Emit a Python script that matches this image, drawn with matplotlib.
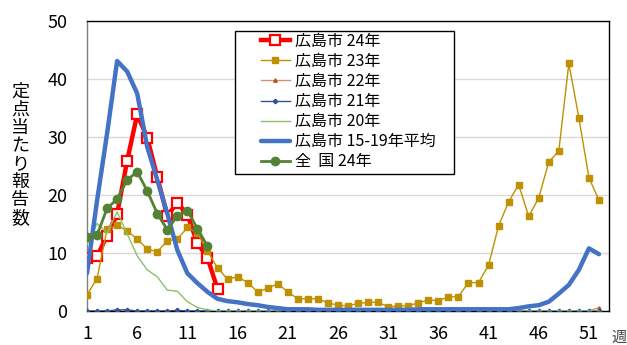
import numpy as np
import matplotlib
matplotlib.use("Agg")
import matplotlib.pyplot as plt
from matplotlib.patches import Rectangle

plt.rcParams['font.family'] = ['Noto Sans CJK JP', 'DejaVu Sans']

weeks = list(range(1, 53))

hiroshima_24 = [9.2, 9.4, 13.0, 16.7, 25.9, 33.9, 29.9, 23.1, 16.4, 18.7, 16.6, 11.7, 9.2, 3.8]
hiroshima_23 = [2.8, 5.6, 14.1, 14.8, 13.8, 12.4, 10.7, 10.2, 12.1, 12.4, 14.4, 13.4, 10.4, 7.4,
                5.5, 5.9, 4.9, 3.3, 3.9, 4.7, 3.3, 2.1, 2.1, 2.1, 1.4, 1.0, 0.9, 1.3, 1.5, 1.5,
                0.7, 0.9, 0.9, 1.4, 1.9, 1.8, 2.4, 2.5, 4.9, 4.9, 7.9, 14.7, 18.8, 21.8, 16.3,
                19.5, 25.7, 27.6, 42.7, 33.3, 23.0, 19.1]
hiroshima_22 = [0.0] * 51 + [0.6]
hiroshima_21 = [0.0, 0.0, 0.0, 0.2, 0.2, 0.0, 0.0, 0.0, 0.0, 0.1] + [0.0] * 42
hiroshima_20 = [11.5, 15.1, 13.4, 17.1, 13.3, 9.5, 7.1, 5.9, 3.6, 3.4, 1.6, 0.6, 0.2] + [0.0] * 39
hiroshima_avg = [6.5, 19.0, 30.6, 43.1, 41.3, 37.5, 28.3, 22.6, 16.8, 10.5, 6.5, 4.8, 3.3, 2.1,
                 1.7, 1.5, 1.2, 1.0, 0.7, 0.5, 0.3, 0.3, 0.3, 0.2, 0.2, 0.2, 0.2, 0.2, 0.2, 0.2,
                 0.2, 0.2, 0.2, 0.3, 0.3, 0.3, 0.3, 0.3, 0.3, 0.3, 0.3, 0.3, 0.3, 0.5, 0.8,
                 1.0, 1.6, 3.0, 4.5, 7.1, 10.8, 9.8]
zenkoku_24 = [12.7, 13.1, 17.7, 19.3, 22.6, 24.0, 20.7, 16.8, 14.0, 16.4, 17.3, 14.2, 11.2]

labels = ['広島市 24年', '広島市 23年', '広島市 22年', '広島市 21年', '広島市 20年',
          '広島市 15-19年平均', '全  国 24年']
yticks = [0, 10, 20, 30, 40, 50]
xticks = list(range(1, 53, 5))

fig = plt.figure(figsize=(6.27, 3.45), dpi=100)
ax = fig.add_axes([87/627, 1 - 311/345, (609-87)/627, (311-21)/345])

def wk(vals):
    return weeks[:len(vals)]

ax.plot(wk(hiroshima_24), hiroshima_24, color='#FF0000', lw=3.2, marker='s', ms=7,
        mfc='white', mec='#FF0000', mew=1.6, label=labels[0], zorder=3)
ax.plot(wk(hiroshima_23), hiroshima_23, color='#BF9000', lw=1.0, marker='s', ms=4.3,
        mfc='#BF9000', mec='#BF9000', label=labels[1], zorder=4)
ax.plot(wk(hiroshima_22), hiroshima_22, color='#D4926A', lw=1.0, marker='^', ms=2.5,
        mfc='#B5541E', mec='#B5541E', label=labels[2], zorder=5)
ax.plot(wk(hiroshima_21), hiroshima_21, color='#2F5597', lw=1.0, marker='D', ms=2.3,
        mfc='#2F5597', mec='#2F5597', label=labels[3], zorder=6)
ax.plot(wk(hiroshima_20), hiroshima_20, color='#8CC068', lw=1.0, label=labels[4], zorder=7)
ax.plot(wk(hiroshima_avg), hiroshima_avg, color='#4472C4', lw=3.2, label=labels[5],
        zorder=8, solid_capstyle='round')
ax.plot(wk(zenkoku_24), zenkoku_24, color='#548235', lw=2.0, marker='o', ms=6.0,
        mfc='#548235', mec='#548235', label=labels[6], zorder=9)

ax.set_xlim(1, 53)
ax.set_ylim(0, 50)
ax.set_yticks(yticks)
ax.set_xticks(xticks)
ax.tick_params(axis='both', length=0, labelsize=13, colors='black')
ax.tick_params(axis='x', pad=10)
ax.tick_params(axis='y', pad=14)
ax.yaxis.grid(True, color='#D9D9D9', lw=1.0)
ax.set_axisbelow(True)
for s in ax.spines.values():
    s.set_color('black')
    s.set_linewidth(1.0)
ax.spines['left'].set_color('#7F7F7F')

# legend box (frame drawn separately to reproduce the wide left padding)
W, H = 522.0, 290.0
ax.add_patch(Rectangle(((235-87)/W, (311-174)/H), 219/W, 143/H, transform=ax.transAxes,
                       facecolor='white', edgecolor='black', lw=1.0, zorder=20))
leg = ax.legend(loc='upper left', bbox_to_anchor=((261-87)/W, (311-33)/H),
                borderaxespad=0, frameon=False, fontsize=11.5,
                handlelength=1.8, labelspacing=0.19, handletextpad=0.3,
                borderpad=0.0)
leg.set_zorder(21)

fig.text(20/627, 1 - 155/345, '\n'.join('定点当たり報告数'), ha='center', va='center',
         fontsize=13, linespacing=1.0)
fig.text(612/627, 1 - 337/345, '週', ha='left', va='center', fontsize=11, color='#404040')

fig.savefig('out.png', dpi=100)
